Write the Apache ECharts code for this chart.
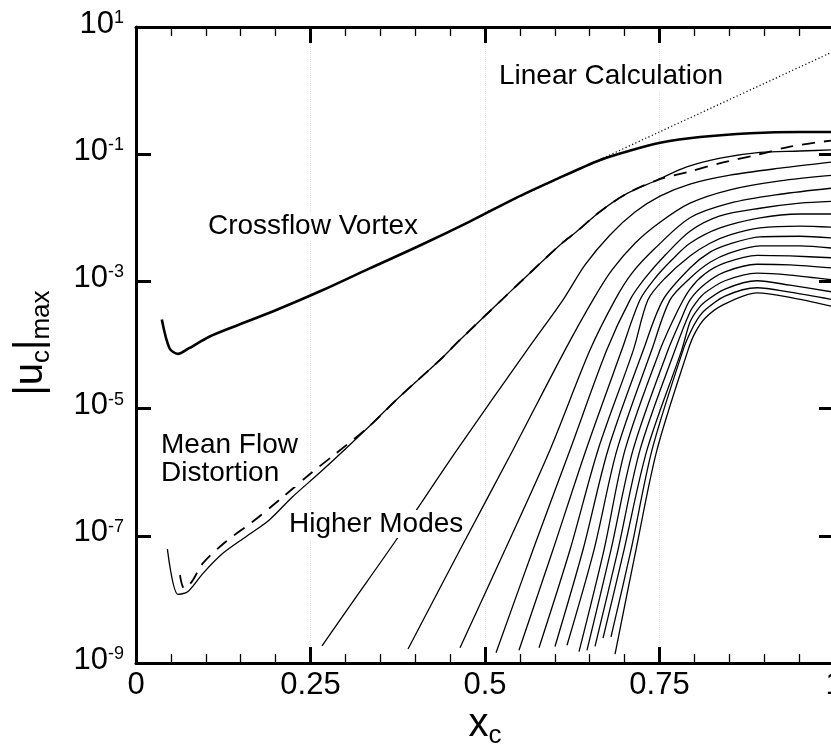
<!DOCTYPE html>
<html>
<head>
<meta charset="utf-8">
<style>
  html, body { margin: 0; padding: 0; background: #fff; }
  #chart { width: 831px; height: 748px; }
</style>
<script src="https://cdn.jsdelivr.net/npm/echarts@6/dist/echarts.min.js"></script>
</head>
<body>
<div id="chart"></div>
<script>
// every point is [x_c, log10 |u_c|max]
const xTicks = [0, 0.25, 0.5, 0.75, 1]
const yTickExp = [-9, -7, -5, -3, -1, 1]

const vortexPts = [[0.037,-3.60],[0.048,-4.05],[0.060,-4.14],[0.076,-4.05],[0.105,-3.87],[0.143,-3.70],[0.201,-3.45],[0.267,-3.14],[0.334,-2.80],[0.406,-2.44],[0.478,-2.06],[0.544,-1.69],[0.597,-1.42],[0.665,-1.09],[0.712,-0.93],[0.751,-0.82],[0.808,-0.73],[0.880,-0.67],[0.951,-0.65],[1.0,-0.65]]
const linearPts = [[0.5,-1.92],[0.75,-0.65],[1.0,0.62]]
const mfdPts = [[0.045,-7.21],[0.060,-7.92],[0.074,-7.88],[0.096,-7.59],[0.124,-7.28],[0.158,-7.01],[0.191,-6.75],[0.224,-6.39],[0.267,-5.97],[0.334,-5.28],[0.378,-4.81],[0.435,-4.24],[0.464,-3.92],[0.524,-3.29],[0.544,-3.08],[0.607,-2.43],[0.631,-2.22],[0.665,-1.90],[0.703,-1.62],[0.746,-1.41],[0.789,-1.20],[0.837,-1.06],[0.894,-0.97],[0.951,-0.95],[1.0,-0.93]]
const mfdDashPts = [[0.063,-7.62],[0.069,-7.83],[0.080,-7.72],[0.096,-7.43],[0.129,-7.09],[0.167,-6.78],[0.205,-6.44],[0.248,-6.04],[0.287,-5.70],[0.334,-5.28],[0.378,-4.81],[0.435,-4.24],[0.464,-3.92],[0.524,-3.29],[0.544,-3.08],[0.607,-2.43],[0.631,-2.22],[0.665,-1.90],[0.703,-1.62],[0.746,-1.41],[0.794,-1.27],[0.837,-1.14],[0.890,-1.01],[0.937,-0.88],[1.0,-0.78]]

// higher modes
const mode1 = [[0.2665,-8.73],[0.3052,-8.12],[0.3725,-7.07],[0.4599,-5.65],[0.5602,-4.08],[0.6118,-3.29],[0.6433,-2.74],[0.6791,-2.27],[0.7149,-1.91],[0.7507,-1.66],[0.7937,-1.47],[0.8510,-1.33],[0.9226,-1.22],[1.0,-1.12]]
const mode2 = [[0.3897,-8.78],[0.4642,-7.22],[0.5401,-5.65],[0.6146,-4.08],[0.6547,-3.29],[0.6820,-2.82],[0.7149,-2.40],[0.7507,-2.07],[0.7937,-1.77],[0.8510,-1.56],[0.9226,-1.42],[1.0,-1.33]]
const mode3 = [[0.4642,-8.76],[0.5287,-7.22],[0.5931,-5.65],[0.6504,-4.08],[0.6863,-3.29],[0.7106,-2.87],[0.7436,-2.48],[0.7937,-2.00],[0.8510,-1.77],[0.9226,-1.63],[1.0,-1.53]]
const mode4 = [[0.5158,-8.84],[0.5688,-7.22],[0.6218,-5.65],[0.6744,-4.08],[0.7078,-3.29],[0.7292,-2.95],[0.7579,-2.59],[0.7937,-2.21],[0.8367,-1.97],[0.8940,-1.85],[0.9513,-1.77],[1.0,-1.74]]
const mode5 = [[0.5487,-8.80],[0.5974,-7.22],[0.6447,-5.65],[0.6959,-4.08],[0.7221,-3.29],[0.7436,-2.95],[0.7679,-2.66],[0.7937,-2.40],[0.8367,-2.16],[0.8940,-2.00],[0.9513,-1.94],[1.0,-1.94]]
const mode6 = [[0.5774,-8.76],[0.6218,-7.22],[0.6619,-5.65],[0.7125,-4.08],[0.7335,-3.29],[0.7579,-2.95],[0.7937,-2.60],[0.8224,-2.40],[0.8510,-2.27],[0.8940,-2.16],[0.9513,-2.13],[1.0,-2.15]]
const mode7 = [[0.6003,-8.74],[0.6404,-7.22],[0.6762,-5.65],[0.7268,-4.08],[0.7550,-3.29],[0.7937,-2.79],[0.8224,-2.54],[0.8510,-2.41],[0.8940,-2.30],[0.9513,-2.29],[1.0,-2.32]]
const mode8 = [[0.6175,-8.72],[0.6562,-7.22],[0.6891,-5.65],[0.7388,-4.08],[0.7651,-3.29],[0.7937,-2.95],[0.8224,-2.70],[0.8510,-2.55],[0.8940,-2.44],[0.9513,-2.44],[1.0,-2.48]]
const mode9 = [[0.6347,-8.82],[0.6705,-7.22],[0.7006,-5.65],[0.7507,-4.08],[0.7765,-3.45],[0.7937,-3.12],[0.8152,-2.88],[0.8438,-2.71],[0.8897,-2.59],[0.9370,-2.60],[1.0,-2.63]]
const mode10 = [[0.6461,-8.80],[0.6805,-7.22],[0.7121,-5.65],[0.7622,-4.08],[0.7800,-3.62],[0.7937,-3.29],[0.8152,-3.04],[0.8438,-2.85],[0.8897,-2.73],[0.9370,-2.74],[1.0,-2.79]]
const mode11 = [[0.6576,-8.74],[0.6906,-7.22],[0.7221,-5.65],[0.7722,-4.08],[0.7937,-3.48],[0.8040,-3.31],[0.8152,-3.18],[0.8438,-2.99],[0.8897,-2.87],[0.9370,-2.90],[1.0,-2.98]]
const mode12 = [[0.6691,-8.61],[0.6992,-7.22],[0.7321,-5.65],[0.7818,-4.08],[0.7937,-3.64],[0.8040,-3.45],[0.8152,-3.32],[0.8438,-3.12],[0.8897,-2.99],[0.9370,-3.06],[1.0,-3.17]]
const mode13 = [[0.6805,-8.59],[0.7092,-7.22],[0.7393,-5.65],[0.7837,-4.08],[0.7937,-3.81],[0.8040,-3.60],[0.8152,-3.45],[0.8438,-3.23],[0.8897,-3.10],[0.9370,-3.17],[1.0,-3.29]]
const mode14 = [[0.6863,-8.86],[0.7163,-7.22],[0.7464,-5.65],[0.7909,-4.08],[0.8009,-3.81],[0.8152,-3.58],[0.8410,-3.37],[0.8897,-3.18],[0.9370,-3.25],[1.0,-3.40]]
const modes = [mode1, mode2, mode3, mode4, mode5, mode6, mode7, mode8, mode9, mode10, mode11, mode12, mode13, mode14]

const yTickValues = yTickExp.map((e) => Math.pow(10, e))
const FONT = '"Liberation Sans", Arial, sans-serif'

function toData(pts) {
  return pts.map((p) => [p[0], Math.pow(10, p[1])])
}

function lineSeries(pts, width, type) {
  return {
    type: 'line',
    data: toData(pts),
    showSymbol: false,
    smooth: 0.3,
    silent: true,
    lineStyle: { color: '#000', width: width, type: type || 'solid' }
  }
}

const chart = echarts.init(document.getElementById('chart'))

let series = []
modes.forEach((m) => series.push(lineSeries(m, 1.3)))
series.push(lineSeries(mfdPts, 1.3))
series.push(lineSeries(mfdDashPts, 1.8, [13, 9]))
series.push(lineSeries(linearPts, 1.2, [1.2, 2.4]))
series.push(lineSeries(vortexPts, 2.6))

const xBase = {
  type: 'value',
  min: 0,
  max: 1,
  interval: 0.25,
  axisLine: { show: true, onZero: false, lineStyle: { color: '#000', width: 3 } },
  axisTick: { show: true, inside: true, length: 16, lineStyle: { color: '#000', width: 3 } },
  minorTick: { show: true, splitNumber: 5, length: 9, lineStyle: { color: '#000', width: 1.3 } },
  minorSplitLine: { show: false }
}
const yBase = {
  type: 'log',
  logBase: 10,
  min: 1e-9,
  max: 10,
  axisLine: { show: true, onZero: false, lineStyle: { color: '#000', width: 3 } },
  axisTick: { show: true, inside: true, length: 15, customValues: yTickValues, lineStyle: { color: '#000', width: 3 } },
  minorTick: { show: false },
  splitLine: { show: false }
}

chart.setOption({
  animation: false,
  backgroundColor: '#fff',
  grid: { left: 136, top: 27, width: 698, height: 636, outerBoundsMode: 'none' },
  xAxis: [
    Object.assign({}, xBase, {
      position: 'bottom',
      axisLabel: {
        color: '#000', fontFamily: FONT, fontSize: 31, margin: 7,
        customValues: xTicks
      },
      splitLine: { show: true, lineStyle: { color: '#e2e2e2', type: 'dotted', width: 1 } }
    }),
    Object.assign({}, xBase, {
      position: 'top',
      axisLabel: { show: false },
      splitLine: { show: false }
    })
  ],
  yAxis: [
    Object.assign({}, yBase, {
      position: 'left',
      axisLabel: {
        customValues: yTickValues,
        margin: 12,
        padding: [0, 0, 6, 0],
        formatter: (v) => '{b|10}{s|' + Math.round(Math.log10(v)) + '}',
        rich: {
          b: { fontFamily: FONT, fontSize: 31, lineHeight: 30, color: '#000' },
          s: { fontFamily: FONT, fontSize: 18, lineHeight: 18, color: '#000', verticalAlign: 'top' }
        }
      }
    }),
    Object.assign({}, yBase, {
      position: 'right',
      axisLabel: { show: false }
    })
  ],
  graphic: [
    {
      type: 'text', z: 100, x: 33, y: 343, rotation: Math.PI / 2,
      style: {
        text: '{a||u}{s|c}{a||}{s|max}',
        align: 'center', verticalAlign: 'middle',
        rich: {
          a: { fontFamily: FONT, fontSize: 40, lineHeight: 44, color: '#000', verticalAlign: 'top' },
          s: { fontFamily: FONT, fontSize: 26, lineHeight: 26, color: '#000', verticalAlign: 'bottom', padding: [19, 0, 0, 0] }
        }
      }
    },
    {
      type: 'text', z: 100, x: 485, y: 727,
      style: {
        text: '{a|x}{s|c}',
        align: 'center', verticalAlign: 'middle',
        rich: {
          a: { fontFamily: FONT, fontSize: 40, lineHeight: 44, color: '#000', verticalAlign: 'top' },
          s: { fontFamily: FONT, fontSize: 26, lineHeight: 26, color: '#000', verticalAlign: 'bottom', padding: [19, 0, 0, 0] }
        }
      }
    },
    {
      type: 'text', z: 100, x: 497, y: 76,
      style: { text: 'Linear Calculation', font: '28px ' + FONT, fill: '#000', align: 'left', verticalAlign: 'middle', backgroundColor: '#fff', padding: [0, 2] }
    },
    {
      type: 'text', z: 100, x: 206, y: 226,
      style: { text: 'Crossflow Vortex', font: '28px ' + FONT, fill: '#000', align: 'left', verticalAlign: 'middle', backgroundColor: '#fff', padding: [0, 2] }
    },
    {
      type: 'text', z: 100, x: 159, y: 459,
      style: { text: 'Mean Flow\nDistortion', font: '28px ' + FONT, lineHeight: 28, fill: '#000', align: 'left', verticalAlign: 'middle', backgroundColor: '#fff', padding: [0, 2] }
    },
    {
      type: 'text', z: 100, x: 287, y: 524,
      style: { text: 'Higher Modes', font: '28px ' + FONT, fill: '#000', align: 'left', verticalAlign: 'middle', backgroundColor: '#fff', padding: [0, 2] }
    }
  ],
  series: series
})
</script>
</body>
</html>
